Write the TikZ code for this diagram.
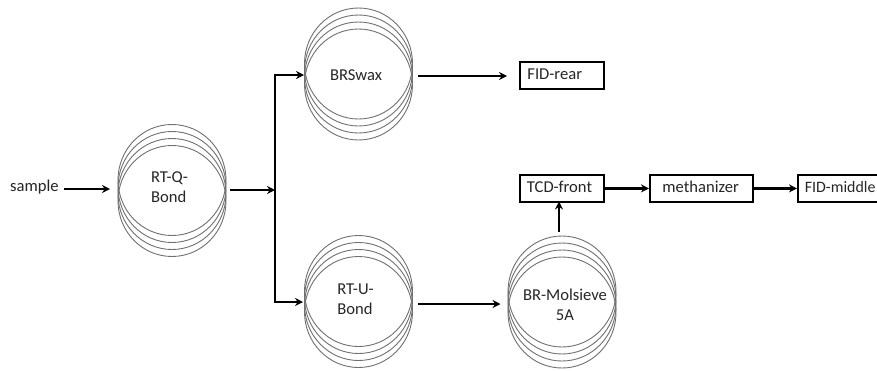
\documentclass[tikz,border=0pt]{standalone}
\usepackage{fontspec}
\setmainfont{Carlito}
\usetikzlibrary{arrows.meta,shapes.geometric}
\definecolor{ink}{HTML}{262626}
\definecolor{ring}{HTML}{707070}
\tikzset{
  flow/.style={line width=2.2pt,black,-{Stealth[length=8pt,width=8pt]}},
  ringshape/.style={ellipse,draw=ring,line width=0.9pt,minimum width=108pt,minimum height=111pt,inner sep=0pt},
  hull/.style={ellipse,minimum width=108pt,minimum height=132pt,inner sep=0pt},
  lbl/.style={text=ink,font=\fontsize{16.6}{20}\selectfont,inner sep=0pt},
  boxed/.style={draw=black,line width=1.8pt,text=ink,font=\fontsize{16.6}{20}\selectfont,minimum height=27pt,inner ysep=0pt,text height=11pt,text depth=2pt,align=left}
}
\newcommand{\coilstack}[3]{%
  \node[ringshape] at (#2,#3-10.5) {};
  \node[ringshape] at (#2,#3-3.5) {};
  \node[ringshape] at (#2,#3+3.5) {};
  \node[ringshape] at (#2,#3+10.5) {};
  \node[hull] (#1) at (#2,#3) {};
}
\begin{document}
\begin{tikzpicture}[x=1pt,y=-1pt]
\useasboundingbox (0,0) rectangle (877,370);
\clip (0,0) rectangle (877,370);
\fill[white] (0,0) rectangle (877,370);
\coilstack{rtq}{172}{190.5}
\coilstack{brs}{358.5}{74}
\coilstack{rtu}{358.5}{301.5}
\coilstack{brm}{562}{302}
\node[lbl,align=left] (rtqt) at (169.5,187) {RT-Q-\\Bond};
\node[lbl] (brst) at (356,75) {BRSwax};
\node[lbl,align=left] (rtut) at (355.5,299) {RT-U-\\Bond};
\node[lbl,align=center] (brmt) at (565,305) {BR-Molsieve\\5A};
\node[lbl,anchor=west] (smp) at (10,187.5) {sample};
\node[boxed,anchor=north west,minimum width=84pt,text width=69pt,inner xsep=7.5pt] (rear) at (519,61) {FID-rear};
\node[boxed,anchor=north west,minimum width=84pt,text width=70pt,inner xsep=7pt] (tcd) at (519,174) {TCD-front};
\node[boxed,anchor=north west,minimum width=103pt,text width=78pt,inner xsep=12.5pt] (meth) at (649,174) {methanizer};
\node[boxed,anchor=north west,minimum width=100pt,text width=86pt,inner xsep=7pt,font=\fontsize{15.9}{20}\selectfont] (mid) at (797,174) {FID-middle};
\coordinate (sa) at (64,189);
\coordinate (sb) at (110,189);
\coordinate (qa) at (230,190);
\coordinate (jn) at (275,190);
\coordinate (jt) at (275,75);
\coordinate (jb) at (275,302);
\coordinate (bt) at (304,75);
\coordinate (ub) at (303,302);
\coordinate (ra) at (418,76);
\coordinate (rb) at (507,76);
\coordinate (ua) at (418,304);
\coordinate (ue) at (500.5,304);
\coordinate (ma) at (559,232);
\coordinate (mb) at (559,201.5);
\draw[flow] (sa) -- (sb);
\draw[flow] (qa) -- (jn);
\draw[line width=2.2pt,line cap=rect] (jt) -- (jb);
\draw[flow] (jt) -- (bt);
\draw[flow] (jb) -- (ub);
\draw[flow] (ra) -- (rb);
\draw[flow] (ua) -- (ue);
\draw[flow] (ma) -- (mb);
\draw[flow] (tcd.east) -- (meth.west);
\draw[flow] (meth.east) -- (mid.west);
\end{tikzpicture}
\end{document}
